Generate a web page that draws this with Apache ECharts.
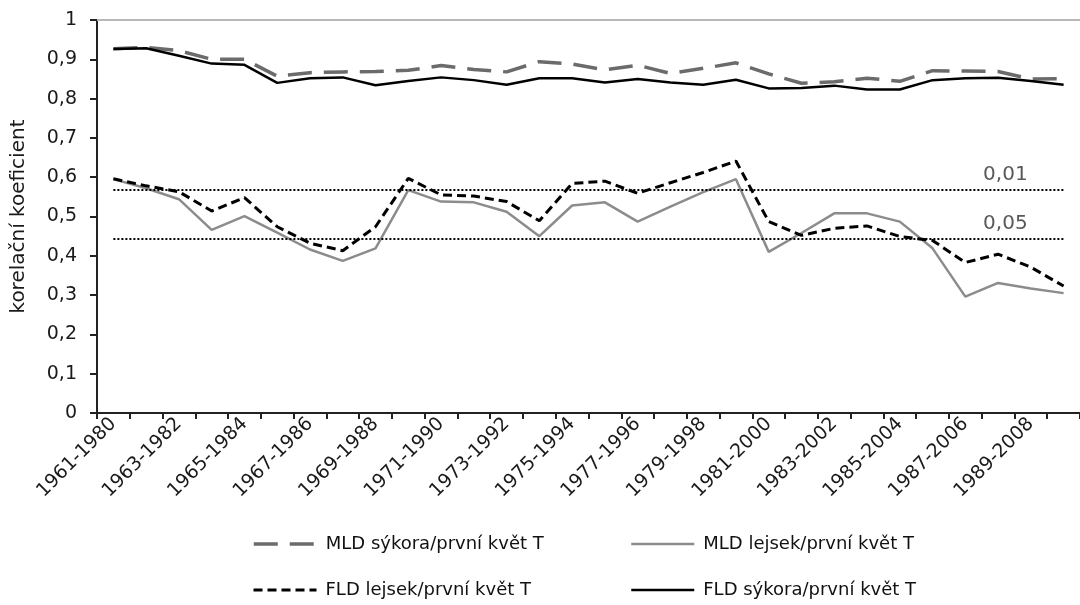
<!DOCTYPE html>
<html>
<head>
<meta charset="utf-8">
<script src="https://cdn.jsdelivr.net/npm/echarts@6/dist/echarts.min.js"></script>
<style>
html,body{margin:0;padding:0;background:#fff;}
#chart{width:1080px;height:605px;}
</style>
</head>
<body>
<div id="chart"></div>
<script>
const categories = ['1961-1980','1962-1981','1963-1982','1964-1983','1965-1984','1966-1985','1967-1986','1968-1987','1969-1988','1970-1989',
  '1971-1990','1972-1991','1973-1992','1974-1993','1975-1994','1976-1995','1977-1996','1978-1997','1979-1998','1980-1999',
  '1981-2000','1982-2001','1983-2002','1984-2003','1985-2004','1986-2005','1987-2006','1988-2007','1989-2008','1990-2009'];

const mldSykora = [0.927,0.930,0.922,0.900,0.900,0.857,0.866,0.868,0.869,0.872,0.884,0.874,0.868,0.894,0.888,0.873,0.885,0.864,0.877,0.891,0.863,0.839,0.843,0.852,0.844,0.871,0.870,0.869,0.850,0.851];
const mldLejsek = [0.595,0.572,0.544,0.466,0.501,0.459,0.416,0.387,0.419,0.567,0.538,0.536,0.512,0.450,0.528,0.536,0.487,0.525,0.562,0.595,0.410,0.458,0.508,0.508,0.487,0.419,0.296,0.331,0.317,0.305];
const fldLejsek = [0.596,0.578,0.563,0.514,0.548,0.474,0.432,0.413,0.474,0.597,0.555,0.552,0.538,0.489,0.584,0.590,0.559,0.586,0.612,0.641,0.487,0.452,0.470,0.476,0.449,0.439,0.383,0.404,0.371,0.323];
const fldSykora = [0.926,0.928,0.909,0.889,0.886,0.840,0.852,0.854,0.834,0.845,0.854,0.847,0.835,0.852,0.852,0.841,0.850,0.841,0.835,0.848,0.826,0.827,0.833,0.823,0.823,0.847,0.852,0.853,0.845,0.835];

const seriesNames = ['MLD sýkora/první květ T','MLD lejsek/první květ T','FLD lejsek/první květ T','FLD sýkora/první květ T'];
const thresholds = [0.567, 0.444];
const thresholdLabels = ['0,01', '0,05'];
const yAxisName = 'korelační koeficient';

const FONT = 'DejaVu Sans';
const chart = echarts.init(document.getElementById('chart'), null, {renderer: 'canvas'});

const legendText = {fontFamily: FONT, fontSize: 18, color: '#111', padding: [0,0,0,4]};
function legendAt(name, left, top) {
  return {data: [name], left: left, top: top, padding: 0, itemWidth: 63, itemHeight: 14,
    itemStyle: {opacity: 0}, lineStyle: {width: 'inherit'}, textStyle: legendText, selectedMode: false};
}

const option = {
  animation: false,
  grid: {left: 97, top: 20, width: 994, height: 393},
  legend: [
    legendAt(seriesNames[0], 252, 535),
    legendAt(seriesNames[1], 630, 535),
    legendAt(seriesNames[2], 252, 581),
    legendAt(seriesNames[3], 630, 581)
  ],
  xAxis: {
    type: 'category',
    data: categories,
    boundaryGap: true,
    axisLine: {lineStyle: {color: '#222', width: 2}},
    axisTick: {show: true, interval: 0, length: 6, lineStyle: {color: '#222', width: 2}},
    axisLabel: {interval: 1, rotate: 45, fontFamily: FONT, fontSize: 19, color: '#1a1a1a', margin: 8}
  },
  yAxis: {
    type: 'value',
    min: 0, max: 1, interval: 0.1,
    name: yAxisName,
    nameLocation: 'middle',
    nameGap: 68,
    nameTextStyle: {fontFamily: FONT, fontSize: 20, color: '#1a1a1a'},
    axisLine: {show: true, lineStyle: {color: '#222', width: 2}},
    axisTick: {show: true, length: 7, lineStyle: {color: '#222', width: 2}},
    splitLine: {show: false},
    axisLabel: {
      fontFamily: FONT, fontSize: 19, color: '#1a1a1a', margin: 20,
      formatter: function (v) {
        if (v === 0) return '0';
        if (Math.abs(v - 1) < 1e-9) return '1';
        return v.toFixed(1).replace('.', ',');
      }
    }
  },
  series: [
    {
      name: seriesNames[0], type: 'line', data: mldSykora, symbol: 'none',
      lineStyle: {color: '#6b6b6b', width: 3.5, type: [24, 12]}, itemStyle: {color: '#6b6b6b'},
      z: 2
    },
    {
      name: seriesNames[1], type: 'line', data: mldLejsek, symbol: 'none',
      lineStyle: {color: '#8c8c8c', width: 2.5}, itemStyle: {color: '#8c8c8c'},
      z: 2
    },
    {
      name: seriesNames[2], type: 'line', data: fldLejsek, symbol: 'none',
      lineStyle: {color: '#000', width: 3, type: [9, 5]}, itemStyle: {color: '#000'},
      z: 3
    },
    {
      name: seriesNames[3], type: 'line', data: fldSykora, symbol: 'none',
      lineStyle: {color: '#000', width: 2.5}, itemStyle: {color: '#000'},
      z: 3,
      markLine: {
        silent: true,
        symbol: 'none',
        animation: false,
        data: [
          [{yAxis: 1, x: 97, lineStyle: {color: '#b8b8b8', width: 2, type: 'solid'}, label: {show: false}}, {yAxis: 1, x: 1091}],
          [{coord: [categories[0], thresholds[0]], lineStyle: {color: '#000', width: 2, type: [2, 2]},
            label: {show: true, formatter: thresholdLabels[0], position: 'insideEndTop', distance: [36, 5], fontFamily: FONT, fontSize: 20, color: '#595959'}},
           {coord: [categories[categories.length - 1], thresholds[0]]}],
          [{coord: [categories[0], thresholds[1]], lineStyle: {color: '#000', width: 2, type: [2, 2]},
            label: {show: true, formatter: thresholdLabels[1], position: 'insideEndTop', distance: [36, 5], fontFamily: FONT, fontSize: 20, color: '#595959'}},
           {coord: [categories[categories.length - 1], thresholds[1]]}]
        ]
      }
    }
  ]
};
chart.setOption(option);
</script>
</body>
</html>
